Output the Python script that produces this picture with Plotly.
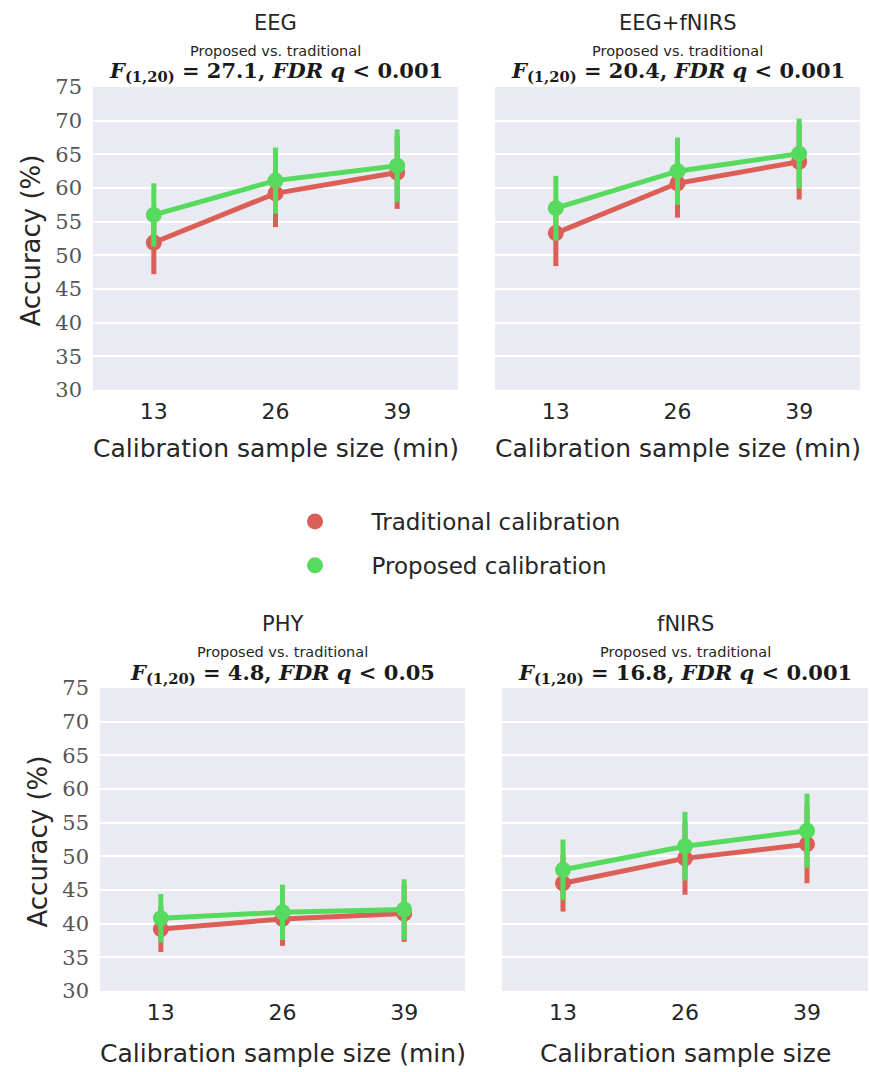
import plotly.graph_objects as go

categories = ["13", "26", "39"]

panel_names = ["EEG", "EEG+fNIRS", "PHY", "fNIRS"]
panel_stats = ["27.1", "20.4", "4.8", "16.8"]
panel_q = ["0.001", "0.001", "0.05", "0.001"]
xaxis_titles = ["Calibration sample size (min)", "Calibration sample size (min)",
                "Calibration sample size (min)", "Calibration sample size"]
yaxis_title = "Accuracy (%)"

eeg_trad = [51.9, 59.2, 62.3]
eeg_trad_err = [4.7, 5.0, 5.4]
eeg_prop = [56.0, 61.1, 63.3]
eeg_prop_err = [4.7, 4.9, 5.4]

eegfnirs_trad = [53.3, 60.7, 63.9]
eegfnirs_trad_err = [4.9, 5.1, 5.6]
eegfnirs_prop = [57.0, 62.5, 65.1]
eegfnirs_prop_err = [4.8, 5.0, 5.2]

phy_trad = [39.2, 40.7, 41.5]
phy_trad_err = [3.4, 4.0, 4.2]
phy_prop = [40.8, 41.7, 42.1]
phy_prop_err = [3.6, 4.1, 4.5]

fnirs_trad = [46.0, 49.7, 51.8]
fnirs_trad_err = [4.2, 5.4, 5.8]
fnirs_prop = [48.0, 51.5, 53.8]
fnirs_prop_err = [4.5, 5.1, 5.5]

y_ticks = [30, 35, 40, 45, 50, 55, 60, 65, 70, 75]

series_names = ["Traditional calibration", "Proposed calibration"]
RED = "#db5f57"
GREEN = "#57db5f"

panels = [
    (eeg_trad, eeg_trad_err, eeg_prop, eeg_prop_err),
    (eegfnirs_trad, eegfnirs_trad_err, eegfnirs_prop, eegfnirs_prop_err),
    (phy_trad, phy_trad_err, phy_prop, phy_prop_err),
    (fnirs_trad, fnirs_trad_err, fnirs_prop, fnirs_prop_err),
]

W, H = 869, 1072
# plot areas in pixels (x0, x1, ytop, ybottom)
areas = [
    (93, 458, 87, 390),
    (495, 860, 87, 390),
    (100, 465, 688, 991),
    (502, 868, 688, 991),
]

SANS = "DejaVu Sans"
SERIF = "DejaVu Serif"
TXT = "#262626"

fig = go.Figure()
layout = {}
annotations = []


def px(xp):
    return xp / W


def py(yp):
    return 1 - yp / H


for i, ((tr, tre, pr, pre), (x0, x1, yt, yb)) in enumerate(zip(panels, areas)):
    n = "" if i == 0 else str(i + 1)
    xa, ya = "x" + n, "y" + n
    for vals, errs, col, name in [(tr, tre, RED, series_names[0]), (pr, pre, GREEN, series_names[1])]:
        fig.add_trace(go.Scatter(
            x=categories, y=vals, xaxis=xa, yaxis=ya, mode="lines",
            line=dict(color=col, width=5), showlegend=False, hoverinfo="skip"))
        fig.add_trace(go.Scatter(
            x=categories, y=vals, xaxis=xa, yaxis=ya, mode="markers",
            marker=dict(color=col, size=16),
            error_y=dict(type="data", array=errs, color=col, thickness=5, width=0),
            name="\u00a0\u00a0\u00a0\u00a0\u00a0" + name, legendgroup=name, showlegend=(i == 0)))
    left = i % 2 == 0
    layout["xaxis" + n] = dict(
        domain=[px(x0), px(x1)], anchor=ya, type="category", automargin=False,
        range=[-0.5, 2.5], showgrid=False, zeroline=False, ticks="",
        ticklabelstandoff=6,
        tickfont=dict(family=SANS, size=22, color=TXT),
    )
    layout["yaxis" + n] = dict(
        domain=[py(yb), py(yt)], anchor=xa, range=[30, 75], automargin=False,
        tickvals=y_ticks, showticklabels=left, showgrid=True, gridcolor="white",
        gridwidth=1.5, zeroline=False, ticks="", ticklabelstandoff=10,
        tickfont=dict(family=SERIF, size=21, color="#555555"),
    )
    cx = px((x0 + x1) / 2)
    annotations.append(dict(text=panel_names[i], x=cx, y=py(yt - 64), xref="paper", yref="paper",
                            showarrow=False, font=dict(family=SANS, size=21, color=TXT),
                            xanchor="center", yanchor="middle"))
    annotations.append(dict(text="Proposed vs. traditional", x=cx, y=py(yt - 36), xref="paper", yref="paper",
                            showarrow=False, font=dict(family=SANS, size=14.5, color=TXT),
                            xanchor="center", yanchor="middle"))
    annotations.append(dict(
        text="<b><i>F</i><sub>(1,20)</sub> = %s, <i>FDR q</i> &lt; %s</b>" % (panel_stats[i], panel_q[i]),
        x=cx, y=py(yt - 15), xref="paper", yref="paper",
        showarrow=False, font=dict(family=SERIF, size=21, color="#1a1a1a"),
        xanchor="center", yanchor="middle"))
    # x-axis title
    annotations.append(dict(text=xaxis_titles[i], x=cx, y=py(yb + 58 + (4 if i >= 2 else 0)),
                            xref="paper", yref="paper", showarrow=False,
                            font=dict(family=SANS, size=25, color=TXT),
                            xanchor="center", yanchor="middle"))
    if left:
        annotations.append(dict(text=yaxis_title, x=px(x0 - 63), y=py((yt + yb) / 2 + 2),
                                xref="paper", yref="paper", showarrow=False, textangle=-90,
                                font=dict(family=SANS, size=26, color=TXT),
                                xanchor="center", yanchor="middle"))

fig.update_layout(
    width=W, height=H, margin=dict(l=0, r=0, t=0, b=0, autoexpand=False),
    plot_bgcolor="#EAEAF2", paper_bgcolor="white",
    annotations=annotations,
    showlegend=True,
    legend=dict(x=px(295), y=py(500), xanchor="left", yanchor="top",
                font=dict(family=SANS, size=23, color=TXT),
                tracegroupgap=11, bgcolor="rgba(0,0,0,0)"),
    **layout,
)

fig.write_html("out.html")
